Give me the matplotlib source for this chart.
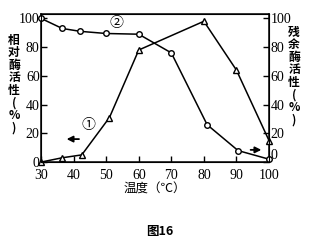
import matplotlib
matplotlib.use("Agg")
import matplotlib.pyplot as plt

plt.rcParams['font.family'] = ['Liberation Serif', 'Noto Sans CJK SC', 'DejaVu Sans']

temp_tri = [30, 36.5, 42.5, 51, 60, 80, 90, 100]
act_tri = [0, 3, 5, 31, 78, 98, 64, 15]
temp_circ = [30, 36.5, 42, 50, 60, 70, 81, 90.5, 100]
act_circ = [100, 93, 91, 89.5, 89, 76, 26, 8, 2]
xticks = [30, 40, 50, 60, 70, 80, 90, 100]
yticks = [0, 20, 40, 60, 80, 100]

fig = plt.figure(figsize=(3.11, 2.43), dpi=100)
ax = fig.add_axes([0.132, 0.333, 0.733, 0.609])
ax.plot(temp_tri, act_tri, color='black', lw=1.1, marker='^', ms=5,
        mfc='white', mec='black', mew=1.0, clip_on=False, zorder=3)
ax.plot(temp_circ, act_circ, color='black', lw=1.1, marker='o', ms=4,
        mfc='white', mec='black', mew=1.0, clip_on=False, zorder=3)
ax.set_xlim(30, 100)
ax.set_ylim(0, 103)
ax.set_xticks(xticks)
ax.set_yticks(yticks)
ax.tick_params(direction='in', length=4, width=1, labelsize=10, pad=1)
ax.tick_params(axis='x', pad=5)
for s in ax.spines.values():
    s.set_linewidth(1.1)

ax2 = ax.twinx()
ax2.set_ylim(0, 103)
ax2.set_yticks(yticks)
ax2.tick_params(direction='in', length=4, width=1, labelsize=10, pad=1)
for lbl in ax2.get_yticklabels():
    if lbl.get_text() == '0':
        lbl.set_va('bottom')

ax.text(44.5, 26, '①', fontsize=10, family=['Noto Sans CJK SC', 'DejaVu Sans'],
        ha='center', va='center')
ax.text(53, 97, '②', fontsize=10, family=['Noto Sans CJK SC', 'DejaVu Sans'],
        ha='center', va='center')
ax.annotate('', xy=(37, 16), xytext=(42.5, 16),
            arrowprops=dict(arrowstyle='-|>', color='black', lw=1.3, mutation_scale=9))
ax.annotate('', xy=(98.5, 8.5), xytext=(93.5, 8.5),
            arrowprops=dict(arrowstyle='-|>', color='black', lw=1.3, mutation_scale=9))

cjk = ['Noto Sans CJK SC', 'DejaVu Sans']
fig.text(14/311, 1 - 84/243, '相\n对\n酶\n活\n性\n(\n%\n)', family=cjk, fontsize=8.5,
         fontweight='bold', ha='center', va='center', linespacing=0.95)
fig.text(294/311, 1 - 76/243, '残\n余\n酶\n活\n性\n(\n%\n)', family=cjk, fontsize=8.5,
         fontweight='bold', ha='center', va='center', linespacing=0.95)
fig.text(155/311, 1 - 189/243, '温度（℃）', family=cjk, fontsize=9,
         ha='center', va='center')
fig.text(160/311, 1 - 231/243, '图16', family=cjk, fontsize=9, fontweight='bold',
         ha='center', va='center')

fig.savefig('out.png', dpi=100)
